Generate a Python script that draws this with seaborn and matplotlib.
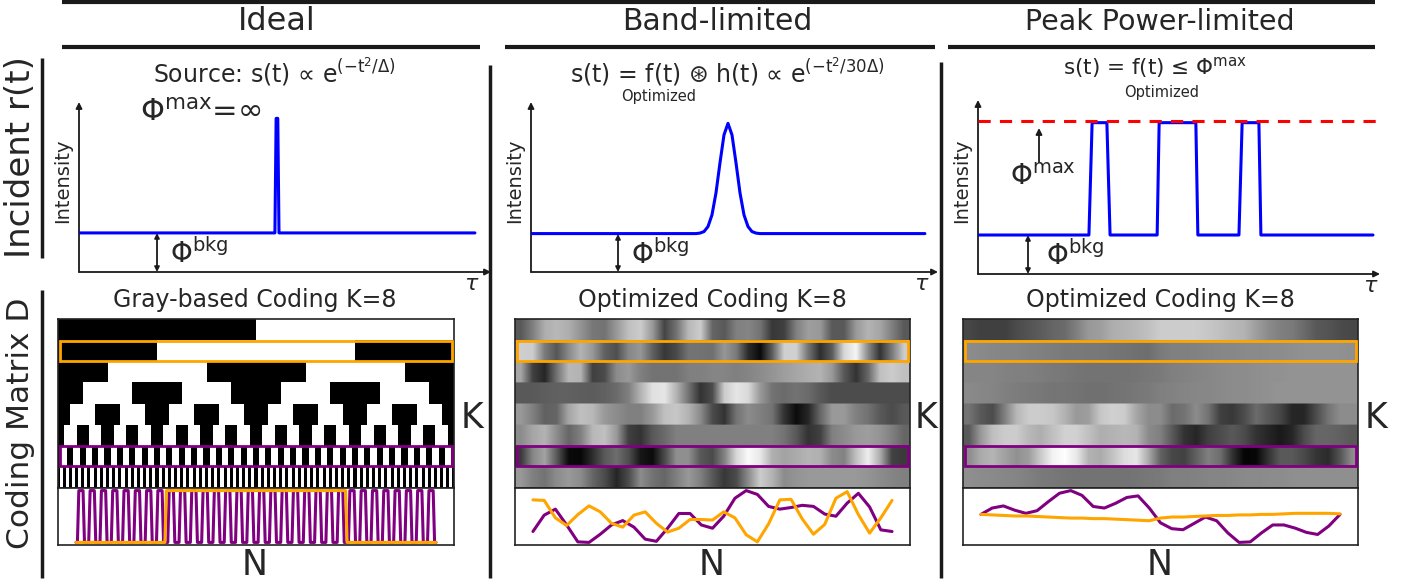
import numpy as np
import matplotlib
matplotlib.use("Agg")
import matplotlib.pyplot as plt
import seaborn as sns
from matplotlib.patches import Rectangle

# ---------------- data ----------------
# Incident intensity profiles (tau normalised to the axis length)
ideal_tau = [0.0, 0.479, 0.482, 0.486, 0.489, 0.968]
ideal_I = [0.234, 0.234, 0.92, 0.92, 0.234, 0.234]

band_tau = [0.0, 0.4084, 0.4183, 0.4282, 0.4381, 0.448, 0.4579, 0.4678, 0.4777, 0.4876,
            0.4975, 0.5074, 0.5173, 0.5272, 0.5371, 0.547, 0.5569, 0.5668, 0.975]
band_I = [0.23, 0.23, 0.233, 0.242, 0.272, 0.342, 0.474, 0.654, 0.821, 0.89,
          0.821, 0.654, 0.474, 0.342, 0.272, 0.242, 0.233, 0.23, 0.23]

peak_tau = [0.0, 0.278, 0.286, 0.323, 0.331, 0.449, 0.454, 0.546, 0.551, 0.654, 0.662, 0.704, 0.709, 0.99]
peak_I = [0.228, 0.228, 0.885, 0.885, 0.228, 0.228, 0.885, 0.885, 0.228, 0.228, 0.885, 0.885, 0.228, 0.228]
peak_max = 0.895

# Gray-based coding: square-wave frequency of each of the K=8 rows over N samples
gray_N = 256
gray_freqs = [0.5, 1, 2, 4, 8, 16, 32, 64]
gray_rows_hl = (1, 6)

# Band-limited optimized coding (33 samples per row, 0=black, 1=white)
band_orange = [0.81, 0.8, 0.48, 0.34, 0.54, 0.7, 0.59, 0.38, 0.31, 0.53, 0.59, 0.38, 0.22, 0.29, 0.45, 0.45,
               0.44, 0.59, 0.48, 0.17, 0.04, 0.37, 0.81, 0.82, 0.46, 0.18, 0.36, 0.84, 0.96, 0.54, 0.2, 0.48, 0.8]
band_purple = [0.23, 0.53, 0.64, 0.35, 0.04, 0.03, 0.18, 0.35, 0.43, 0.31, 0.09, 0.05, 0.29, 0.56, 0.56, 0.35,
               0.29, 0.51, 0.84, 0.98, 0.91, 0.69, 0.64, 0.67, 0.71, 0.69, 0.55, 0.51, 0.75, 0.93, 0.68, 0.26, 0.23]
band_row1 = [0.35, 0.5, 0.68, 0.72, 0.68, 0.58, 0.47, 0.45, 0.6, 0.75, 0.8, 0.6, 0.27, 0.45, 0.72, 0.8,
             0.4, 0.35, 0.5, 0.52, 0.45, 0.22, 0.25, 0.5, 0.62, 0.6, 0.35, 0.35, 0.6, 0.7, 0.65, 0.5, 0.35]
band_row3 = [0.65, 0.25, 0.15, 0.45, 0.72, 0.7, 0.25, 0.3, 0.55, 0.6, 0.5, 0.45, 0.45, 0.45, 0.5, 0.5,
             0.52, 0.52, 0.5, 0.52, 0.55, 0.58, 0.62, 0.65, 0.68, 0.7, 0.6, 0.35, 0.2, 0.4, 0.75, 0.8, 0.75]
band_row4 = [0.35, 0.35, 0.37, 0.38, 0.38, 0.37, 0.36, 0.38, 0.42, 0.5, 0.7, 0.88, 0.9, 0.7, 0.45, 0.2,
             0.3, 0.8, 0.9, 0.85, 0.6, 0.45, 0.42, 0.45, 0.42, 0.35, 0.3, 0.3, 0.3, 0.3, 0.3, 0.3, 0.3]
band_row5 = [0.6, 0.5, 0.38, 0.4, 0.65, 0.75, 0.72, 0.6, 0.55, 0.5, 0.5, 0.6, 0.75, 0.78, 0.7, 0.55,
             0.3, 0.2, 0.45, 0.55, 0.5, 0.45, 0.2, 0.05, 0.15, 0.4, 0.6, 0.6, 0.5, 0.45, 0.35, 0.3, 0.35]
band_row6 = [0.55, 0.65, 0.7, 0.55, 0.4, 0.5, 0.72, 0.75, 0.6, 0.25, 0.2, 0.35, 0.42, 0.5, 0.5, 0.5,
             0.5, 0.5, 0.5, 0.5, 0.5, 0.5, 0.45, 0.35, 0.2, 0.25, 0.5, 0.55, 0.6, 0.62, 0.58, 0.5, 0.4]
band_row8 = [0.6, 0.5, 0.45, 0.55, 0.6, 0.55, 0.4, 0.3, 0.15, 0.3, 0.55, 0.45, 0.4, 0.5, 0.6, 0.5,
             0.35, 0.22, 0.3, 0.55, 0.8, 0.7, 0.55, 0.58, 0.6, 0.6, 0.6, 0.6, 0.6, 0.58, 0.55, 0.52, 0.5]

# Peak-power-limited optimized coding
peak_orange = [0.55, 0.54, 0.53, 0.52, 0.52, 0.51, 0.5, 0.49, 0.48, 0.48, 0.47, 0.47, 0.46, 0.45, 0.44, 0.43,
               0.48, 0.5, 0.5, 0.51, 0.52, 0.53, 0.53, 0.54, 0.54, 0.55, 0.55, 0.56, 0.57, 0.57, 0.57, 0.57, 0.56]
peak_purple = [0.55, 0.67, 0.71, 0.63, 0.57, 0.62, 0.79, 0.95, 1.0, 0.91, 0.7, 0.67, 0.76, 0.87, 0.9, 0.67,
               0.39, 0.28, 0.26, 0.38, 0.5, 0.43, 0.2, 0.02, 0.03, 0.2, 0.35, 0.35, 0.29, 0.21, 0.17, 0.33, 0.55]
peak_row1 = [0.28, 0.25, 0.25, 0.25, 0.3, 0.33, 0.36, 0.4, 0.42, 0.5, 0.6, 0.62, 0.68, 0.7, 0.72, 0.75,
             0.8, 0.8, 0.8, 0.8, 0.78, 0.75, 0.72, 0.7, 0.62, 0.55, 0.5, 0.48, 0.42, 0.35, 0.33, 0.3, 0.28]
peak_row3 = [0.52, 0.52, 0.52, 0.51, 0.5, 0.5, 0.49, 0.48, 0.47, 0.46, 0.45, 0.45, 0.45, 0.45, 0.46, 0.47,
             0.48, 0.5, 0.51, 0.52, 0.53, 0.54, 0.55, 0.55, 0.56, 0.57, 0.57, 0.58, 0.58, 0.58, 0.58, 0.58, 0.58]
peak_row4 = [0.54, 0.53, 0.52, 0.5, 0.49, 0.48, 0.47, 0.46, 0.46, 0.45, 0.44, 0.44, 0.45, 0.46, 0.47, 0.48,
             0.5, 0.51, 0.52, 0.53, 0.53, 0.54, 0.55, 0.55, 0.56, 0.57, 0.58, 0.58, 0.58, 0.58, 0.58, 0.58, 0.58]
peak_row5 = [0.45, 0.35, 0.3, 0.5, 0.72, 0.8, 0.8, 0.78, 0.7, 0.6, 0.62, 0.78, 0.82, 0.8, 0.65, 0.55,
             0.55, 0.42, 0.45, 0.55, 0.45, 0.25, 0.22, 0.3, 0.42, 0.35, 0.28, 0.15, 0.15, 0.3, 0.45, 0.55, 0.55]
peak_row6 = [0.35, 0.6, 0.75, 0.8, 0.8, 0.72, 0.68, 0.75, 0.82, 0.82, 0.75, 0.68, 0.7, 0.72, 0.7, 0.55,
             0.5, 0.35, 0.2, 0.15, 0.25, 0.3, 0.35, 0.3, 0.2, 0.15, 0.1, 0.15, 0.3, 0.4, 0.4, 0.38, 0.35]
peak_row8 = [0.56, 0.55, 0.54, 0.53, 0.52, 0.5, 0.48, 0.47, 0.46, 0.45, 0.45, 0.45, 0.45, 0.45, 0.46, 0.47,
             0.48, 0.5, 0.5, 0.51, 0.52, 0.52, 0.53, 0.54, 0.54, 0.55, 0.55, 0.56, 0.56, 0.56, 0.56, 0.56, 0.56]

# ---------------- style ----------------
sns.set_theme(style="white")
plt.rcParams["font.family"] = ["DejaVu Sans"]
plt.rcParams["mathtext.fontset"] = "dejavusans"

ORANGE = "#FFA500"
PURPLE = "#800080"
BLUE = "#0000FF"

W, H = 1401, 582
fig = plt.figure(figsize=(W / 100, H / 100), dpi=100)


def add_ax(l, t, r, b):
    return fig.add_axes([l / W, 1 - b / H, (r - l) / W, (b - t) / H])


# overlay in pixel coordinates
ov = fig.add_axes([0, 0, 1, 1])
ov.set_xlim(0, W)
ov.set_ylim(H, 0)
ov.axis("off")


def hline(x0, x1, y, lw=3):
    ov.plot([x0, x1], [y, y], color="k", lw=lw, solid_capstyle="butt")


def vline(x, y0, y1, lw=2.5):
    ov.plot([x, x], [y0, y1], color="k", lw=lw, solid_capstyle="butt")


def arrow(x0, y0, x1, y1, style="-|>", lw=1.3, ms=9):
    ov.annotate("", xy=(x1, y1), xytext=(x0, y0), xycoords="data",
                arrowprops=dict(arrowstyle=style, lw=lw, color="k", mutation_scale=ms,
                                shrinkA=0, shrinkB=0))


def txt(x, y, s, size, **kw):
    ov.text(x, y, s, fontsize=size, ha=kw.pop("ha", "center"), va=kw.pop("va", "center"), **kw)


# frame lines
hline(62, 1375, 2)
hline(62, 480, 47)
hline(505, 935, 47)
hline(948, 1375, 47)
vline(42, 58, 258)
vline(42, 290, 578)
vline(490, 65, 578)
vline(941, 62, 578)

# headings
txt(277, 22, "Ideal", 23)
txt(717, 22, "Band-limited", 21.5)
txt(1160, 22, "Peak Power-limited", 20.5)
txt(21, 157, "Incident r(t)", 24.5, rotation=90)
txt(21, 423, "Coding Matrix D", 22.5, rotation=90)

txt(274, 72, r"Source: s(t) ∝ e$^{(\mathrm{-t^{2}/\Delta})}$", 17)
txt(727, 72, r"s(t) = f(t) $\circledast$ h(t) ∝ e$^{(\mathrm{-t^{2}/30\Delta})}$", 17)
txt(659, 97, "Optimized", 10.5)
txt(1155, 68, r"s(t) = f(t) ≤ $\Phi^{\mathrm{max}}$", 15.5)
txt(1162, 92, "Optimized", 10.5)

# ---------------- intensity panels ----------------
panels = [
    dict(rect=(79, 105, 488, 272), tau=ideal_tau, I=ideal_I, yl=63, tx=472, bk=157, bkx=199, base=233),
    dict(rect=(531, 105, 935, 272), tau=band_tau, I=band_I, yl=515, tx=922, bk=618, bkx=660, base=234),
    dict(rect=(978, 103, 1377, 274), tau=peak_tau, I=peak_I, yl=962, tx=1371, bk=1028, bkx=1075, base=235),
]
for p in panels:
    l, t, r, b = p["rect"]
    ax = add_ax(l, t, r, b)
    sns.lineplot(x=p["tau"], y=p["I"], color=BLUE, lw=2.2, ax=ax, solid_joinstyle="round")
    ax.set_xlim(0, 1)
    ax.set_ylim(0, 1)
    ax.axis("off")
    if p is panels[2]:
        ax.axhline(peak_max, color="#FF0000", lw=2.2, ls=(0, (4, 3)))
    arrow(l, b, l, t - 3)
    arrow(l, b, r + 3, b)
    txt(p["yl"], 181, "Intensity", 14, rotation=90)
    txt(p["tx"], b + 12, r"$\tau$", 16)
    arrow(p["bk"], p["base"], p["bk"], b, style="<|-|>", ms=7)
    txt(p["bkx"], p["base"] + 21, r"$\Phi^{\mathrm{bkg}}$", 20)

txt(201, 112, r"$\Phi^{\mathrm{max}}$=∞", 22)
arrow(1039, 162, 1039, 128)
txt(1043, 177, r"$\Phi^{\mathrm{max}}$", 20)

# ---------------- coding matrices ----------------
gray_matrix = np.array([(np.cos(2 * np.pi * f * (np.arange(gray_N) + 0.5) / gray_N) < 0).astype(float)
                        for f in gray_freqs])
band_matrix = np.array([band_row1, band_orange, band_row3, band_row4, band_row5, band_row6, band_purple, band_row8])
peak_matrix = np.array([peak_row1, peak_orange, peak_row3, peak_row4, peak_row5, peak_row6, peak_purple, peak_row8])


def box_ax(ax):
    for s in ax.spines.values():
        s.set_visible(True)
        s.set_color("#222222")
        s.set_linewidth(1.2)
    ax.set_xticks([])
    ax.set_yticks([])


def highlight(ax, ncol):
    for row, col in zip(gray_rows_hl, (ORANGE, PURPLE)):
        ax.add_patch(Rectangle((0.004 * ncol, row + 0.03), ncol * 0.992, 0.94, fill=False,
                               edgecolor=col, lw=2.0, zorder=5))


cols = [
    dict(m=(58, 319, 454, 488), l=(58, 488, 454, 545), title="Gray-based Coding K=8", cx=255, kx=472),
    dict(m=(515, 319, 910, 488), l=(515, 488, 910, 545), title="Optimized Coding K=8", cx=712, kx=926),
    dict(m=(963, 319, 1358, 488), l=(963, 488, 1358, 545), title="Optimized Coding K=8", cx=1160, kx=1376),
]

for i, c in enumerate(cols):
    axm = add_ax(*c["m"])
    if i == 0:
        sns.heatmap(gray_matrix, cmap="gray", vmin=0, vmax=1, cbar=False,
                    xticklabels=False, yticklabels=False, ax=axm)
        ncol = gray_N
        orange_vals, purple_vals = gray_matrix[gray_rows_hl[0]], gray_matrix[gray_rows_hl[1]]
    else:
        M = band_matrix if i == 1 else peak_matrix
        ncol = M.shape[1]
        axm.imshow(np.repeat(M, 24, axis=0), cmap="gray", vmin=0, vmax=1, aspect="auto",
                   interpolation="bilinear", extent=(0, ncol, 8, 0))
        axm.set_xlim(0, ncol)
        axm.set_ylim(8, 0)
        orange_vals, purple_vals = M[gray_rows_hl[0]], M[gray_rows_hl[1]]
    highlight(axm, ncol)
    box_ax(axm)

    axl = add_ax(*c["l"])
    xs = np.arange(len(purple_vals))
    sns.lineplot(x=xs, y=purple_vals, color=PURPLE, lw=2.2, ax=axl, solid_joinstyle="round")
    sns.lineplot(x=xs, y=orange_vals, color=ORANGE, lw=2.2, ax=axl, solid_joinstyle="round")
    axl.margins(x=0.05, y=0.05)
    box_ax(axl)

    txt(c["cx"], 300, c["title"], 17)
    txt(c["kx"], 418, "K", 25)
    txt(c["cx"], 565, "N", 25)

fig.savefig("out.png", dpi=100)
